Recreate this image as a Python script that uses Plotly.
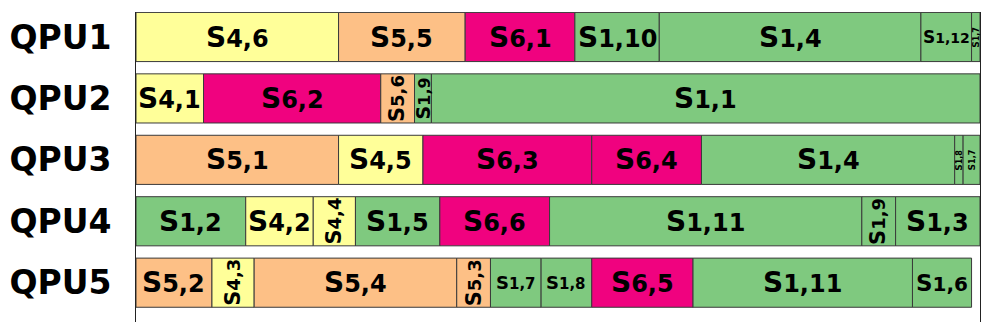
import plotly.graph_objects as go

# ---- data ----
qpus = ["QPU1", "QPU2", "QPU3", "QPU4", "QPU5"]

qpu1_labels = ["4,6", "5,5", "6,1", "1,10", "1,4", "1,12", "1,7"]
qpu1_durs = [24, 15, 13, 10, 31, 6, 1]

qpu2_labels = ["4,1", "6,2", "5,6", "1,9", "1,1"]
qpu2_durs = [8, 21, 4, 2, 65]

qpu3_labels = ["5,1", "4,5", "6,3", "6,4", "1,4", "1,8", "1,7"]
qpu3_durs = [24, 10, 20, 13, 30, 1, 2]

qpu4_labels = ["1,2", "4,2", "4,4", "1,5", "6,6", "1,11", "1,9", "1,3"]
qpu4_durs = [13, 8, 5, 10, 13, 37, 4, 10]

qpu5_labels = ["5,2", "4,3", "5,4", "5,3", "1,7", "1,8", "6,5", "1,11", "1,6"]
qpu5_durs = [9, 5, 24, 4, 6, 6, 12, 26, 7]

x_max = 100

# ---- styles ----
stage_colors = {"1": "#7fc97f", "4": "#ffff99", "5": "#fdc086", "6": "#f0027f"}
size_override = {("QPU3", "1,7"): 9, ("QPU1", "1,12"): 17}
FONT = "DejaVu Sans"


def label_style(d):
    if d >= 8:
        return 28, 0
    if d >= 7:
        return 23, 0
    if d >= 6:
        return 18, 0
    if d >= 4:
        return 21, -90
    if d >= 2:
        return 19, -90
    return 9, -90


rows = [
    (qpu1_labels, qpu1_durs),
    (qpu2_labels, qpu2_durs),
    (qpu3_labels, qpu3_durs),
    (qpu4_labels, qpu4_durs),
    (qpu5_labels, qpu5_durs),
]

fig = go.Figure()
annotations = []
for i, (labels, durs) in enumerate(rows):
    bases = []
    acc = 0
    for d in durs:
        bases.append(acc)
        acc += d
    colors = [stage_colors[l.split(",")[0]] for l in labels]
    fig.add_trace(go.Bar(
        orientation="h",
        y=[i] * len(durs),
        x=durs,
        base=bases,
        width=0.8,
        marker=dict(color=colors, line=dict(color="#3a3a3a", width=1)),
        showlegend=False,
        hoverinfo="skip",
    ))
    for lab, d, b in zip(labels, durs, bases):
        size, angle = label_style(d)
        size = size_override.get((qpus[i], lab), size)
        sub = round(size * 0.85)
        annotations.append(dict(
            x=b + d / 2, y=i, xref="x", yref="y",
            text=f"S<span style='font-size:{sub}px'>{lab}</span>",
            showarrow=False, textangle=angle,
            font=dict(family=FONT, size=size, color="black", weight="bold"),
        ))

fig.update_layout(
    width=997, height=332,
    margin=dict(l=136, r=17, t=12, b=10),
    paper_bgcolor="white", plot_bgcolor="white",
    barmode="overlay",
    annotations=annotations,
    xaxis=dict(range=[0, x_max], visible=False, showgrid=False, zeroline=False),
    yaxis=dict(
        range=[4.64, -0.407],
        tickvals=list(range(len(qpus))), ticktext=qpus,
        tickfont=dict(family=FONT, size=33, color="black", weight="bold"),
        showline=True, mirror=True, linecolor="#222", linewidth=1,
        showgrid=False, zeroline=False, ticks="", ticklabelstandoff=17,
    ),
)

fig.write_html(
    "out.html",
    config={"displayModeBar": False},
    post_script="document.body.style.margin='0';window.dispatchEvent(new Event('resize'));",
)
